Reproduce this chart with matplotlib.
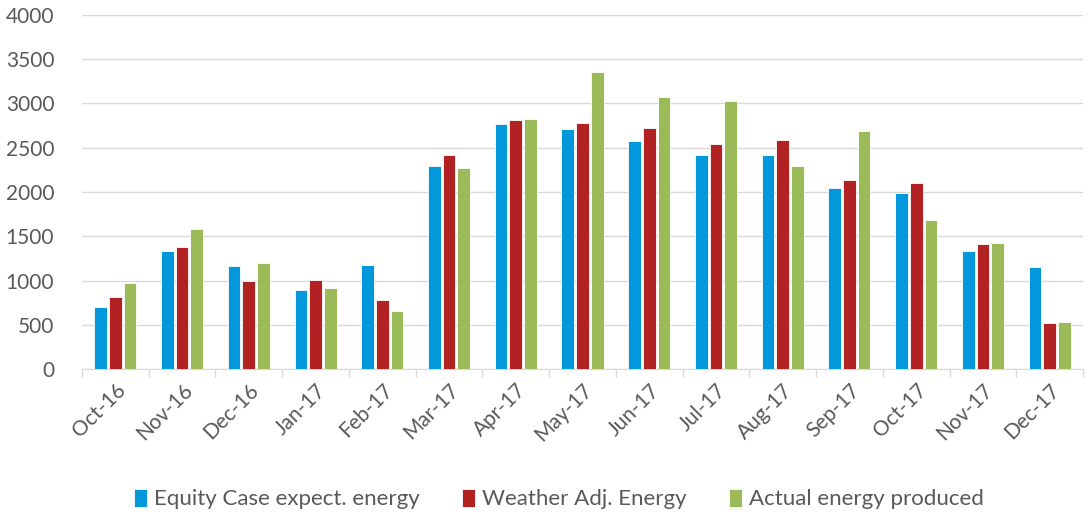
import matplotlib.pyplot as plt
import numpy as np

months = ['Oct-16', 'Nov-16', 'Dec-16', 'Jan-17', 'Feb-17', 'Mar-17', 'Apr-17', 'May-17',
          'Jun-17', 'Jul-17', 'Aug-17', 'Sep-17', 'Oct-17', 'Nov-17', 'Dec-17']
equity = [705, 1335, 1165, 897, 1180, 2288, 2767, 2714, 2575, 2413, 2413, 2043, 1987, 1335, 1157]
weather = [814, 1384, 999, 1007, 777, 2413, 2809, 2775, 2726, 2545, 2590, 2138, 2107, 1414, 516]
actual = [969, 1580, 1195, 920, 660, 2273, 2824, 3355, 3069, 3027, 2296, 2692, 1685, 1429, 535]

plt.rcParams['font.family'] = ['Lato', 'DejaVu Sans']
txt = '#595959'

fig = plt.figure(figsize=(10.89, 5.14), dpi=100)
ax = fig.add_axes([0.0753, 0.282, 0.9192, 0.689])

x = np.arange(len(months))
w = 0.19
step = 0.22
ax.bar(x - step, equity, w, color='#0398DB', edgecolor='white', linewidth=0.6, label='Equity Case expect. energy', zorder=3)
ax.bar(x, weather, w, color='#B22222', edgecolor='white', linewidth=0.6, label='Weather Adj. Energy', zorder=3)
ax.bar(x + step, actual, w, color='#9BBB59', edgecolor='white', linewidth=0.6, label='Actual energy produced', zorder=3)

ax.set_ylim(0, 4000)
ax.set_yticks(range(0, 4001, 500))
ax.set_xlim(-0.5, len(months) - 0.5)
ax.set_xticks(x)
ax.set_xticklabels(months, rotation=45, ha='right', rotation_mode='anchor')
ax.set_xticks(np.arange(-0.5, len(months), 1), minor=True)
ax.tick_params(axis='x', which='major', length=0, pad=8, labelsize=15, labelcolor=txt)
ax.tick_params(axis='x', which='minor', length=6, color='#d9d9d9', width=1)
ax.tick_params(axis='y', length=0, labelsize=15, labelcolor=txt, pad=20)
ax.grid(axis='y', color='#d9d9d9', linewidth=1, zorder=0)
for s in ['top', 'right', 'left']:
    ax.spines[s].set_visible(False)
ax.spines['bottom'].set_color('#d9d9d9')

fig.legend(loc='lower center', bbox_to_anchor=(0.513, -0.03), ncol=3, frameon=False,
           fontsize=16, labelcolor=txt, handlelength=0.6, handleheight=0.9,
           handletextpad=0.3, columnspacing=1.9)

fig.savefig('out.png', dpi=100)
